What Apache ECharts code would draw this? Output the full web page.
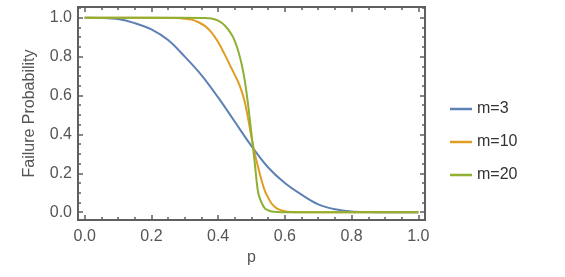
<!DOCTYPE html>
<html>
<head>
<meta charset="utf-8">
<script src="https://cdn.jsdelivr.net/npm/echarts@6/dist/echarts.min.js"></script>
<style>
html, body { margin: 0; padding: 0; background: #fff; }
#chart { width: 565px; height: 277px; }
</style>
</head>
<body>
<div id="chart"></div>
<script>
// tick values
var majorTicks = [0, 0.2, 0.4, 0.6, 0.8, 1.0]
var minorTicks = [0.05, 0.1, 0.15, 0.25, 0.3, 0.35, 0.45, 0.5, 0.55, 0.65, 0.7, 0.75, 0.85, 0.9, 0.95, 1.05]

// m=3
var m3P = [0, 0.05, 0.1, 0.15, 0.2, 0.25, 0.3, 0.35, 0.4, 0.45, 0.5, 0.55, 0.6, 0.65, 0.7, 0.75, 0.8, 0.85, 0.9, 0.95, 1.0]
var m3F = [1.0, 0.999, 0.993, 0.972, 0.94, 0.885, 0.80, 0.705, 0.59, 0.465, 0.34, 0.23, 0.15, 0.09, 0.04, 0.015, 0.004, 0.001, 0, 0, 0]

// m=10
var m10P = [0, 0.1, 0.2, 0.28, 0.3, 0.32, 0.34, 0.36, 0.38, 0.4, 0.42, 0.44, 0.46, 0.47, 0.48, 0.49, 0.5, 0.51, 0.52, 0.53, 0.54, 0.55, 0.56, 0.57, 0.58, 0.6, 0.62, 0.65, 0.8, 1.0]
var m10F = [1.0, 1.0, 1.0, 0.998, 0.995, 0.99, 0.978, 0.958, 0.925, 0.875, 0.81, 0.74, 0.67, 0.625, 0.565, 0.48, 0.385, 0.30, 0.23, 0.165, 0.11, 0.075, 0.045, 0.028, 0.016, 0.005, 0.001, 0, 0, 0]

// m=20
var m20P = [0, 0.2, 0.36, 0.38, 0.4, 0.42, 0.44, 0.45, 0.46, 0.47, 0.48, 0.49, 0.5, 0.51, 0.52, 0.53, 0.54, 0.55, 0.56, 0.58, 0.6, 0.8, 1.0]
var m20F = [1.0, 1.0, 0.999, 0.996, 0.985, 0.96, 0.915, 0.88, 0.83, 0.765, 0.675, 0.55, 0.40, 0.25, 0.10, 0.05, 0.02, 0.01, 0.004, 0.001, 0, 0, 0]

function pairs (xs, ys) {
  return xs.map(function (x, i) { return [x, ys[i]] })
}

var frameColor = '#5f5f5f'
var font = 'Liberation Sans, Arial, sans-serif'

function xAx (pos, ticks, len, labels) {
  return {
    type: 'value', position: pos, min: -0.02, max: 1.02,
    splitLine: { show: false },
    axisLine: { show: true, onZero: false, lineStyle: { color: frameColor, width: 2 } },
    axisTick: { show: true, inside: true, length: len, customValues: ticks, lineStyle: { color: frameColor, width: 1.5 } },
    axisLabel: labels ? { show: true, customValues: ticks, margin: 9, color: '#555', fontSize: 16, fontFamily: font, formatter: function (v) { return v.toFixed(1) } } : { show: false }
  }
}

function yAx (pos, ticks, len, labels) {
  return {
    type: 'value', position: pos, min: -0.04, max: 1.055,
    splitLine: { show: false },
    axisLine: { show: true, onZero: false, lineStyle: { color: frameColor, width: 2 } },
    axisTick: { show: true, inside: true, length: len, customValues: ticks, lineStyle: { color: frameColor, width: 1.5 } },
    axisLabel: labels ? { show: true, customValues: ticks, margin: 6, color: '#555', fontSize: 16, fontFamily: font, formatter: function (v) { return v.toFixed(1) } } : { show: false }
  }
}

var xMain = xAx('bottom', majorTicks, 5, true)
xMain.name = 'p'
xMain.nameLocation = 'middle'
xMain.nameGap = 30
xMain.nameTextStyle = { color: '#555', fontSize: 16, fontFamily: font }

var yMain = yAx('left', majorTicks, 5, true)
yMain.name = 'Failure Probability'
yMain.nameLocation = 'middle'
yMain.nameGap = 40
yMain.nameTextStyle = { color: '#555', fontSize: 16, fontFamily: font }

var myChart = echarts.init(document.getElementById('chart'))
myChart.setOption({
  animation: false,
  grid: { left: 78, top: 7, width: 347, height: 213 },
  xAxis: [xMain, xAx('bottom', minorTicks, 3, false), xAx('top', majorTicks, 5, false), xAx('top', minorTicks, 3, false)],
  yAxis: [yMain, yAx('left', minorTicks, 3, false), yAx('right', majorTicks, 5, false), yAx('right', minorTicks, 3, false)],
  legend: {
    orient: 'vertical', left: 445, top: 96,
    icon: 'rect', itemWidth: 22, itemHeight: 2.5, itemGap: 17,
    textStyle: { color: '#333', fontSize: 16, fontFamily: font },
    data: ['m=3', 'm=10', 'm=20']
  },
  series: [
    { name: 'm=3', type: 'line', data: pairs(m3P, m3F), smooth: 0.35, symbol: 'none', lineStyle: { width: 2, color: '#5E81B5' }, itemStyle: { color: '#5E81B5' } },
    { name: 'm=10', type: 'line', data: pairs(m10P, m10F), smooth: 0.35, symbol: 'none', lineStyle: { width: 2, color: '#E19C24' }, itemStyle: { color: '#E19C24' } },
    { name: 'm=20', type: 'line', data: pairs(m20P, m20F), smooth: 0.35, symbol: 'none', lineStyle: { width: 2, color: '#8FB032' }, itemStyle: { color: '#8FB032' } }
  ]
})
</script>
</body>
</html>
